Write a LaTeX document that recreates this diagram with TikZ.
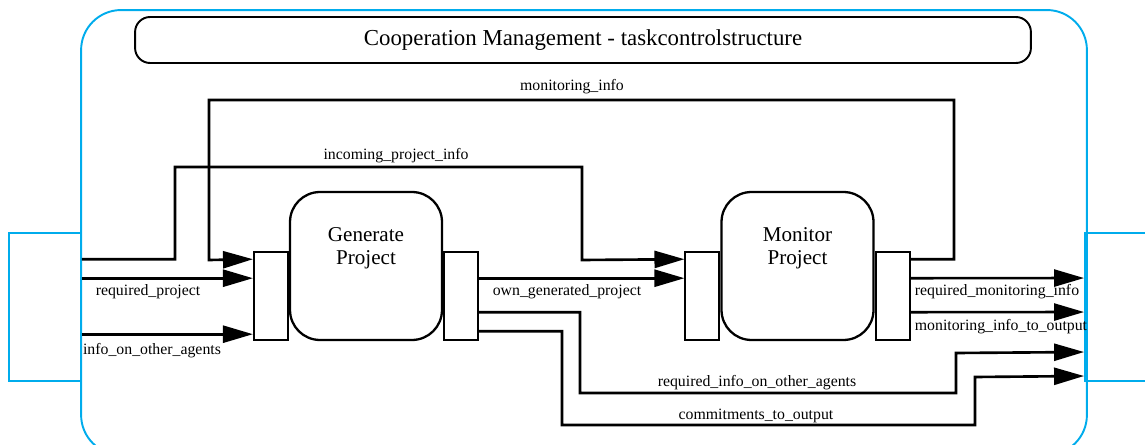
\documentclass[tikz,border=0pt]{standalone}
\usepackage{fontspec}
\setmainfont{Liberation Serif}
\usepackage{xcolor}
\usetikzlibrary{arrows.meta}
\usetikzlibrary{positioning}
\definecolor{frameblue}{RGB}{0,172,236}
\tikzset{
  taskbox/.style={draw=black, line width=1.3pt, rounded corners=0.6cm, minimum width=3.04cm, minimum height=2.96cm},
  portbox/.style={draw=black, line width=1.1pt, fill=white, minimum width=0.68cm, minimum height=1.76cm, inner sep=0pt},
  bluebox/.style={draw=frameblue, line width=1.1pt},
  flowline/.style={line width=1.5pt},
  flowarrow/.style={line width=1.5pt, -{Triangle[length=0.6cm,width=0.34cm]}},
  flowlabel/.style={font=\fontsize{9}{10}\selectfont, inner sep=0pt, anchor=base},
  tasktext/.style={font=\fontsize{12}{13.5}\selectfont, align=center, inner sep=0pt}
}
\begin{document}
\begin{tikzpicture}[x=0.02cm, y=-0.02cm]
        \useasboundingbox (0,0) rectangle (1145,445);
        % frame, in- and output
        \node [bluebox, minimum width=1.44cm, minimum height=2.96cm] (input) at (45,307) {};
        \node [bluebox, minimum width=1.4cm, minimum height=2.96cm] (output) at (1120,307) {};
        \node [bluebox, rounded corners=0.8cm, minimum width=20.12cm, minimum height=8.9cm] (frame) at (584,232.5) {};
        \node [draw=black, line width=1.1pt, rounded corners=0.3cm, minimum width=17.92cm, minimum height=0.92cm, font=\fontsize{13}{15}\selectfont] (title) at (583,40) {Cooperation Management - taskcontrolstructure};

        % tasks
        \node [taskbox] (gen) at (366,266) {};
        \node [taskbox] (mon) at (797.5,266) {};
        \node [tasktext, below=0.72cm of gen.north] (gentext) {Generate\\Project};
        \node [tasktext, below=0.72cm of mon.north] (montext) {Monitor\\Project};
        \node [portbox, anchor=south east] (genin) at (gen.south west) {};
        \node [portbox, anchor=south west] (genout) at (gen.south east) {};
        \node [portbox, anchor=south east] (monin) at (mon.south west) {};
        \node [portbox, anchor=south west] (monout) at (mon.south east) {};

        \coordinate (gin1) at ([yshift=-0.16cm]genin.north west);
        \coordinate (gin2) at ([yshift=-0.54cm]genin.north west);
        \coordinate (gin3) at ([yshift=-1.66cm]genin.north west);
        \coordinate (gout2) at ([yshift=-0.54cm]genout.north east);
        \coordinate (gout3) at ([yshift=-1.22cm]genout.north east);
        \coordinate (gout4) at ([yshift=-1.6cm]genout.north east);
        \coordinate (min1) at ([yshift=-0.16cm]monin.north west);
        \coordinate (min2) at ([yshift=-0.54cm]monin.north west);
        \coordinate (mout1) at ([yshift=-0.16cm]monout.north east);
        \coordinate (mout2) at ([yshift=-0.54cm]monout.north east);
        \coordinate (mout3) at ([yshift=-1.22cm]monout.north east);
        \coordinate (out1) at ([yshift=-0.92cm]output.north west);
        \coordinate (out2) at ([yshift=-1.6cm]output.north west);
        \coordinate (out3) at ([yshift=-2.4cm]output.north west);
        \coordinate (out4) at ([yshift=-2.88cm]output.north west);

        % flows
        \draw [flowarrow] (input.east |- gin1) -| (175,167) -| (582,260) -- (min1);
        \draw [flowarrow] (mout1) -| (954,100) -| (209,260) -- (gin1);
        \draw [flowarrow] (input.east |- gin2) -- (gin2);
        \draw [flowarrow] (input.east |- gin3) -- (gin3);
        \draw [flowarrow] (gout2) -- (min2);
        \draw [flowarrow] (gout3) -| (580,393) -| (956,353) -- (out3);
        \draw [flowarrow] (gout4) -| (562,425) -| (975,377) -- (out4);
        \draw [flowarrow] (mout2) -- (out1);
        \draw [flowarrow] (mout3) -- (out2);

        \node [flowlabel] (lmoninfo) at (572,91) {monitoring\_info};
        \node [flowlabel] (lincoming) at (396,160) {incoming\_project\_info};
        \node [flowlabel] (lreqproj) at (148,296) {required\_project};
        \node [flowlabel] (lagents) at (152,355) {info\_on\_other\_agents};
        \node [flowlabel] (lowngen) at (567,296) {own\_generated\_project};
        \node [flowlabel] (lreqinfo) at (757,387) {required\_info\_on\_other\_agents};
        \node [flowlabel] (lcommit) at (756,419) {commitments\_to\_output};
        \node [flowlabel] (lreqmon) at (997,296) {required\_monitoring\_info};
        \node [flowlabel] (lmonout) at (1001,331) {monitoring\_info\_to\_output};
\end{tikzpicture}
\end{document}
